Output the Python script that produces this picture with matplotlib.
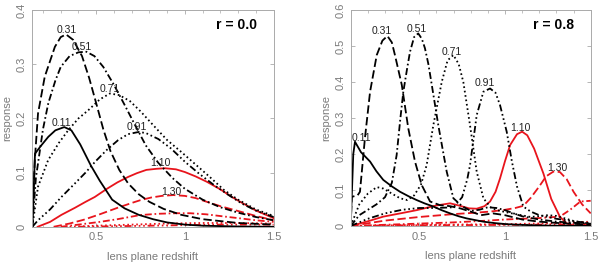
import matplotlib
matplotlib.use("Agg")
import matplotlib.pyplot as plt
from matplotlib.ticker import MultipleLocator

plt.rcParams['font.family'] = ['Liberation Sans', 'DejaVu Sans']
plt.rcParams['lines.scale_dashes'] = False

# ---- r = 0.0 panel ----
l011_x = [0.14, 0.155, 0.19, 0.23, 0.27, 0.32, 0.36, 0.41, 0.47, 0.52, 0.59, 0.66, 0.74, 0.82, 0.9, 1.0, 1.1, 1.3, 1.5]
l011_y = [0.0, 0.135, 0.150, 0.166, 0.178, 0.184, 0.178, 0.152, 0.113, 0.085, 0.050, 0.034, 0.022, 0.014, 0.008, 0.004, 0.002, 0.0005, 0.0]
l031_x = [0.14, 0.154, 0.172, 0.21, 0.267, 0.30, 0.33, 0.37, 0.42, 0.46, 0.50, 0.54, 0.58, 0.63, 0.68, 0.74, 0.80, 0.88, 0.98, 1.1, 1.3, 1.5]
l031_y = [0.0, 0.123, 0.209, 0.277, 0.332, 0.350, 0.355, 0.345, 0.315, 0.275, 0.228, 0.180, 0.140, 0.105, 0.080, 0.060, 0.046, 0.033, 0.022, 0.014, 0.007, 0.004]
l051_x = [0.14, 0.16, 0.2, 0.23, 0.27, 0.30, 0.35, 0.40, 0.445, 0.49, 0.54, 0.6, 0.66, 0.72, 0.78, 0.85, 0.93, 1.0, 1.1, 1.2, 1.3, 1.4, 1.5]
l051_y = [0.0, 0.09, 0.18, 0.228, 0.27, 0.295, 0.315, 0.322, 0.323, 0.315, 0.295, 0.262, 0.225, 0.187, 0.15, 0.118, 0.09, 0.07, 0.05, 0.036, 0.026, 0.018, 0.012]
l071_x = [0.14, 0.172, 0.229, 0.29, 0.342, 0.4, 0.455, 0.52, 0.577, 0.63, 0.69, 0.75, 0.82, 0.9, 0.98, 1.06, 1.14, 1.22, 1.3, 1.4, 1.5]
l071_y = [0.0, 0.074, 0.123, 0.155, 0.178, 0.2, 0.215, 0.235, 0.246, 0.243, 0.232, 0.213, 0.188, 0.16, 0.138, 0.115, 0.092, 0.068, 0.05, 0.032, 0.02]
l091_x = [0.14, 0.172, 0.24, 0.304, 0.38, 0.44, 0.494, 0.56, 0.624, 0.68, 0.74, 0.78, 0.85, 0.92, 1.0, 1.08, 1.16, 1.24, 1.32, 1.4, 1.5]
l091_y = [0.0, 0.012, 0.032, 0.055, 0.08, 0.1, 0.12, 0.142, 0.16, 0.171, 0.175, 0.173, 0.162, 0.145, 0.12, 0.098, 0.078, 0.06, 0.043, 0.03, 0.018]
l110_x = [0.17, 0.24, 0.304, 0.38, 0.44, 0.492, 0.56, 0.62, 0.68, 0.73, 0.783, 0.84, 0.889, 0.95, 1.0, 1.06, 1.124, 1.2, 1.26, 1.312, 1.4, 1.5]
l110_y = [0.0, 0.009, 0.022, 0.035, 0.046, 0.055, 0.07, 0.082, 0.092, 0.099, 0.105, 0.107, 0.108, 0.106, 0.101, 0.093, 0.083, 0.069, 0.056, 0.046, 0.03, 0.016]
l130_x = [0.26, 0.35, 0.43, 0.52, 0.62, 0.71, 0.748, 0.81, 0.87, 0.935, 1.0, 1.06, 1.124, 1.2, 1.312, 1.4, 1.5]
l130_y = [0.0, 0.006, 0.013, 0.023, 0.035, 0.045, 0.049, 0.054, 0.057, 0.0585, 0.057, 0.053, 0.046, 0.038, 0.028, 0.02, 0.012]
l150_x = [0.3, 0.4, 0.52, 0.62, 0.748, 0.85, 0.95, 1.03, 1.12, 1.22, 1.312, 1.4, 1.5]
l150_y = [0.0, 0.004, 0.009, 0.014, 0.0216, 0.024, 0.025, 0.025, 0.023, 0.019, 0.0155, 0.012, 0.009]
l170_x = [0.35, 0.5, 0.7, 0.9, 1.1, 1.3, 1.5]
l170_y = [0.0, 0.002, 0.004, 0.006, 0.007, 0.007, 0.006]
l190_x = [0.4, 0.6, 0.8, 1.0, 1.2, 1.5]
l190_y = [0.0, 0.001, 0.002, 0.003, 0.004, 0.004]

# ---- r = 0.8 panel ----
r011_x = [0.1, 0.115, 0.125, 0.16, 0.213, 0.25, 0.29, 0.34, 0.388, 0.44, 0.485, 0.53, 0.582, 0.63, 0.68, 0.73, 0.777, 0.83, 0.874, 0.94, 1.01, 1.1, 1.25, 1.5]
r011_y = [0.0, 0.2, 0.234, 0.205, 0.179, 0.152, 0.128, 0.11, 0.095, 0.082, 0.072, 0.063, 0.054, 0.044, 0.035, 0.027, 0.021, 0.016, 0.012, 0.008, 0.005, 0.003, 0.001, 0.0]
r031_x = [0.1, 0.106, 0.14, 0.154, 0.183, 0.213, 0.252, 0.285, 0.314, 0.34, 0.358, 0.398, 0.436, 0.475, 0.514, 0.563, 0.62, 0.68, 0.738, 0.8, 0.86, 0.93, 1.0, 1.1, 1.2, 1.35, 1.5]
r031_y = [0.0, 0.081, 0.085, 0.095, 0.244, 0.373, 0.475, 0.515, 0.528, 0.51, 0.475, 0.392, 0.271, 0.179, 0.114, 0.068, 0.058, 0.055, 0.049, 0.04, 0.03, 0.035, 0.03, 0.018, 0.012, 0.007, 0.004]
r051_x = [0.1, 0.15, 0.25, 0.3, 0.34, 0.368, 0.39, 0.407, 0.43, 0.446, 0.47, 0.494, 0.515, 0.533, 0.553, 0.573, 0.611, 0.66, 0.699, 0.75, 0.8, 0.85, 0.9, 0.95, 1.0, 1.05, 1.1, 1.2, 1.3, 1.5]
r051_y = [0.0, 0.03, 0.06, 0.08, 0.12, 0.197, 0.3, 0.373, 0.44, 0.484, 0.525, 0.535, 0.52, 0.494, 0.45, 0.392, 0.28, 0.151, 0.077, 0.055, 0.042, 0.045, 0.052, 0.05, 0.044, 0.035, 0.027, 0.018, 0.012, 0.006]
r071_x = [0.1, 0.15, 0.2, 0.252, 0.29, 0.34, 0.388, 0.43, 0.47, 0.51, 0.543, 0.582, 0.631, 0.665, 0.699, 0.73, 0.757, 0.796, 0.835, 0.874, 0.92, 0.97, 1.05, 1.15, 1.25, 1.3, 1.4, 1.5]
r071_y = [0.0, 0.06, 0.09, 0.108, 0.104, 0.09, 0.077, 0.072, 0.085, 0.115, 0.169, 0.28, 0.4, 0.46, 0.475, 0.45, 0.4, 0.28, 0.151, 0.077, 0.05, 0.042, 0.034, 0.025, 0.03, 0.028, 0.014, 0.006]
r091_x = [0.1, 0.2, 0.3, 0.4, 0.5, 0.6, 0.7, 0.75, 0.78, 0.796, 0.835, 0.874, 0.913, 0.945, 0.971, 1.01, 1.04, 1.07, 1.107, 1.15, 1.2, 1.3, 1.4, 1.5]
r091_y = [0.0, 0.02, 0.035, 0.045, 0.05, 0.05, 0.052, 0.08, 0.13, 0.169, 0.308, 0.373, 0.382, 0.37, 0.336, 0.262, 0.18, 0.11, 0.054, 0.04, 0.03, 0.02, 0.013, 0.008]
r110_x = [0.1, 0.2, 0.29, 0.4, 0.485, 0.6, 0.68, 0.738, 0.79, 0.835, 0.88, 0.913, 0.945, 0.971, 1.0, 1.03, 1.07, 1.1, 1.13, 1.17, 1.224, 1.27, 1.32, 1.36, 1.4, 1.5]
r110_y = [0.0, 0.013, 0.026, 0.036, 0.044, 0.057, 0.063, 0.056, 0.049, 0.048, 0.055, 0.068, 0.095, 0.132, 0.18, 0.225, 0.255, 0.262, 0.252, 0.215, 0.146, 0.075, 0.026, 0.007, 0.001, 0.0]
r130_x = [0.1, 0.3, 0.5, 0.7, 0.8, 0.913, 1.0, 1.06, 1.107, 1.15, 1.2, 1.24, 1.282, 1.32, 1.36, 1.4, 1.45, 1.5]
r130_y = [0.0, 0.015, 0.025, 0.033, 0.036, 0.04, 0.045, 0.05, 0.056, 0.078, 0.11, 0.138, 0.151, 0.15, 0.13, 0.095, 0.06, 0.035]
r150_x = [0.1, 0.4, 0.7, 0.9, 1.0, 1.1, 1.2, 1.26, 1.32, 1.38, 1.44, 1.5]
r150_y = [0.0, 0.005, 0.01, 0.015, 0.018, 0.02, 0.022, 0.024, 0.026, 0.045, 0.068, 0.07]
r170_x = [0.1, 0.5, 1.0, 1.3, 1.5]
r170_y = [0.0, 0.003, 0.005, 0.008, 0.012]
r190_x = [0.1, 0.5, 1.0, 1.5]
r190_y = [0.0, 0.002, 0.003, 0.005]

curve_labels = ["0.11", "0.31", "0.51", "0.71", "0.91", "1.10", "1.30"]
left_label_x = [0.306, 0.334, 0.418, 0.578, 0.727, 0.86, 0.926]
left_label_y = [0.192, 0.364, 0.332, 0.255, 0.185, 0.117, 0.065]
right_label_x = [0.164, 0.281, 0.485, 0.69, 0.885, 1.09, 1.304]
right_label_y = [0.244, 0.543, 0.546, 0.484, 0.396, 0.271, 0.161]

DASH = (0, (6, 2.5))
DASHDOT = (0, (5, 2, 1.2, 2))
DOT = (0, (1.2, 2))
DASH3DOT = (0, (5, 2, 1.2, 2, 1.2, 2, 1.2, 2))
styles = ['-', DASH, DASHDOT, DOT, DASH3DOT]
GRAY = '#7a7a7a'
RED = '#e8141c'

fig = plt.figure(figsize=(6, 2.64), dpi=100)
ax1 = fig.add_axes([0.053, 0.141, 0.403, 0.821])
ax2 = fig.add_axes([0.5845, 0.144, 0.40, 0.818])

left_black = [(l011_x, l011_y), (l031_x, l031_y), (l051_x, l051_y), (l071_x, l071_y), (l091_x, l091_y)]
left_red = [(l110_x, l110_y), (l130_x, l130_y), (l150_x, l150_y), (l170_x, l170_y), (l190_x, l190_y)]
right_black = [(r011_x, r011_y), (r031_x, r031_y), (r051_x, r051_y), (r071_x, r071_y), (r091_x, r091_y)]
right_red = [(r110_x, r110_y), (r130_x, r130_y), (r150_x, r150_y), (r170_x, r170_y), (r190_x, r190_y)]

for ax, black, red, lab_x, lab_y, xmin, ymax, title in [
        (ax1, left_black, left_red, left_label_x, left_label_y, 0.137, 0.4, "r = 0.0"),
        (ax2, right_black, right_red, right_label_x, right_label_y, 0.1, 0.6, "r = 0.8")]:
    for (xs, ys), ls in zip(red, styles):
        ax.plot(xs, ys, color=RED, ls=ls, lw=1.3)
    for (xs, ys), ls in zip(black, styles):
        ax.plot(xs, ys, color='black', ls=ls, lw=1.3)
    for t, x, y in zip(curve_labels, lab_x, lab_y):
        ax.text(x, y, t, fontsize=7.5, ha='center', va='center', color='#222222')
    ax.text(0.93, 0.93, title, transform=ax.transAxes, fontsize=10, fontweight='bold',
            ha='right', va='center')
    ax.set_xlim(xmin, 1.5)
    ax.set_ylim(0, ymax)
    ax.set_xticks([0.5, 1, 1.5])
    ax.set_xticklabels(["0.5", "1", "1.5"])
    ax.xaxis.set_minor_locator(MultipleLocator(0.1))
    yt = [0, 0.1, 0.2, 0.3, 0.4] if ymax == 0.4 else [0, 0.1, 0.2, 0.3, 0.4, 0.5, 0.6]
    ax.set_yticks(yt)
    ax.set_yticklabels(["0" if v == 0 else "%.1f" % v for v in yt], rotation=90, va='center')
    ax.tick_params(direction='in', length=3, width=0.6, colors='#aaaaaa', labelcolor=GRAY,
                   labelsize=8, top=True, right=True, pad=4)
    ax.tick_params(which='minor', direction='in', length=1.8, width=0.5, colors='#aaaaaa',
                   top=True, bottom=True)
    for s in ax.spines.values():
        s.set_color('#aaaaaa')
        s.set_linewidth(0.7)
    ax.set_xlabel("lens plane redshift", fontsize=8, color=GRAY, labelpad=7)
    ax.set_ylabel("response", fontsize=8, color=GRAY, labelpad=3)

fig.savefig("out.png", dpi=100)
